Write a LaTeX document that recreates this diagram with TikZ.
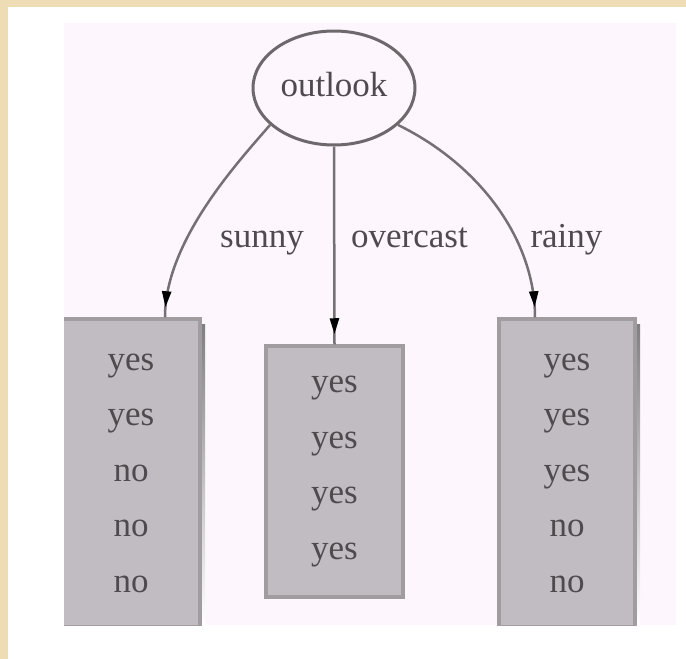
\documentclass[tikz,border=0pt]{standalone}
\usepackage{fontspec}
\setmainfont{Liberation Serif}
\usetikzlibrary{shapes.geometric,arrows.meta,decorations.markings,calc}
\definecolor{parch}{HTML}{EEDDB4}
\definecolor{panel}{HTML}{FDF7FD}
\definecolor{boxfill}{HTML}{C1BCC1}
\definecolor{boxedge}{HTML}{A09CA0}
\definecolor{inkgray}{HTML}{4E4A4E}
\definecolor{linegray}{HTML}{747074}
\definecolor{ovalgray}{HTML}{6C686C}
\definecolor{shade}{HTML}{E9E5E9}

\begin{document}
\begin{tikzpicture}[x=1pt,y=-1pt,
  lbl/.style={font=\fontsize{35}{40}\selectfont, text=inkgray, inner sep=0pt, anchor=base},
  leaf/.style={rectangle, draw=boxedge, line width=3.5pt, fill=boxfill,
    minimum width=136pt, align=center, inner sep=0pt,
    font=\fontsize{35}{55.5}\selectfont, text=inkgray},
  branch/.style={draw=linegray, line width=2.5pt, postaction={decorate},
    decoration={markings, mark=at position -10pt with
      {\arrow{Triangle[length=16pt,width=9pt,color=black]}}}},
]
% page layers
\useasboundingbox (0,0) rectangle (686,659);
\fill[parch] (0,0) rectangle (686,659);
\fill[white] (8,7) rectangle (686,659);
\fill[panel] (64,23) rectangle (676,625);

\begin{scope}
\clip (64,23) rectangle (676,625);
% soft shadows beside the outer leaves
\fill[shade] (200,324) rectangle (205,625);
\fill[shade] (635,324) rectangle (640,625);

\node[ellipse, draw=ovalgray, line width=3pt, minimum width=162pt, minimum height=114pt,
      inner sep=0pt, font=\fontsize{35}{40}\selectfont, text=inkgray,
      text height=17pt, text depth=0pt] (outlook) at (334,88) {outlook};

\node[leaf, minimum width=138pt, minimum height=308pt] (sunnyleaf) at (131,473)
  {yes\\yes\\no\\no\\no};
\node[leaf, minimum width=137pt, minimum height=251pt] (overleaf) at (334.5,471.5)
  {yes\\yes\\yes\\yes};
\node[leaf, minimum height=308pt] (rainyleaf) at (567,473)
  {yes\\yes\\yes\\no\\no};

\coordinate (sunnyin) at ($(sunnyleaf.north)+(34,0)$);
\coordinate (rainyin) at ($(rainyleaf.north)+(-32,0)$);

\path[branch] (outlook.210) .. controls (240,160) and (165,240) .. (sunnyin);
\path[branch] (outlook.south) -- (overleaf.north);
\path[branch] (outlook.330) .. controls (480,165) and (535,240) .. (rainyin);

\node[lbl] (sunny) at (262,247) {sunny};
\node[lbl] (overcast) at (409.5,247) {overcast};
\node[lbl] (rainy) at (566.5,247) {rainy};
\end{scope}
\end{tikzpicture}
\end{document}
